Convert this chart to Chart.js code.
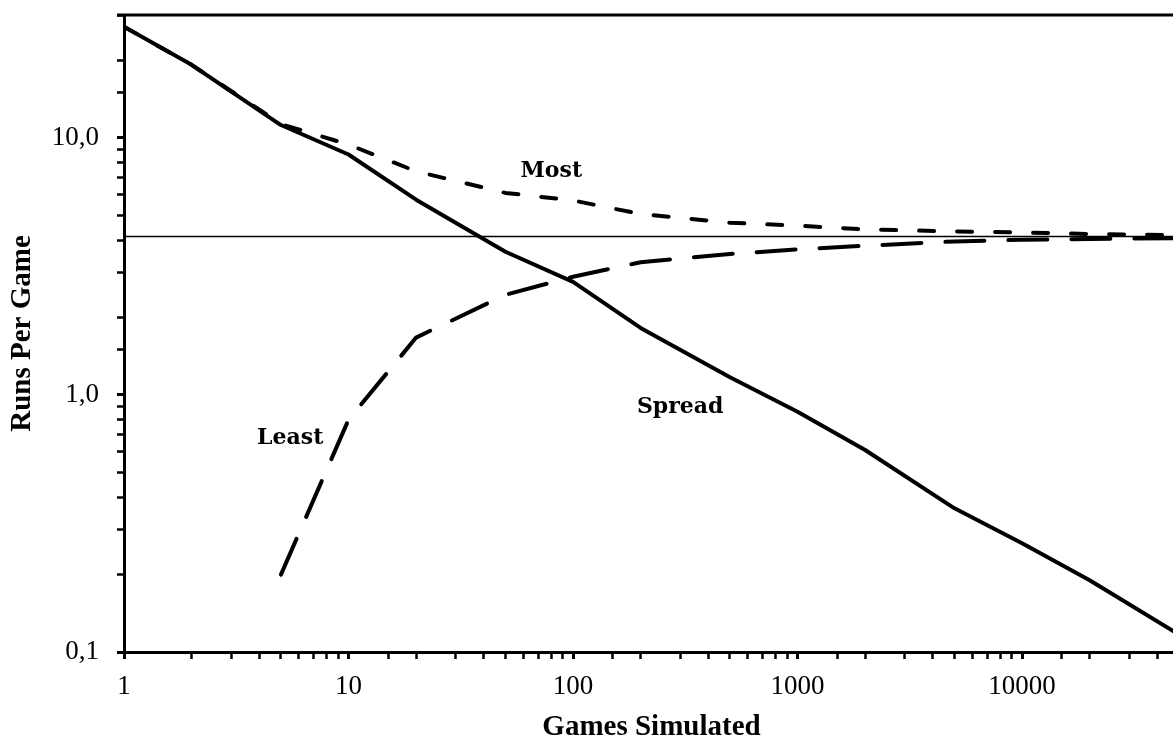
<!DOCTYPE html>
<html>
<head>
<meta charset="utf-8">
<script src="https://cdn.jsdelivr.net/npm/chart.js@4.4.0/dist/chart.umd.min.js"></script>
<style>
html,body{margin:0;padding:0;background:#fff;overflow:hidden;width:1173px;height:740px;}
#wrap{position:relative;width:1181px;height:745px;}
</style>
</head>
<body>
<div id="wrap"><canvas id="c" width="1181" height="745"></canvas></div>
<script>
// ---- data ----
const games  = [1, 2, 5, 10, 20, 50, 100, 200, 500, 1000, 2000, 5000, 10000, 20000, 50000];
const most   = [27, 19.2, 11.3, 9.4, 7.4, 6.1, 5.7, 5.05, 4.67, 4.55, 4.4, 4.32, 4.28, 4.22, 4.18];
const least  = [null, null, 0.2, 0.8, 1.67, 2.45, 2.88, 3.28, 3.53, 3.68, 3.8, 3.95, 4.01, 4.04, 4.07];
const spread = [27, 19.2, 11.2, 8.6, 5.74, 3.6, 2.75, 1.82, 1.17, 0.86, 0.61, 0.362, 0.265, 0.19, 0.117];
const meanRuns = 4.13;
const xTickValues = [1, 10, 100, 1000, 10000];
const xTickLabels = ['1', '10', '100', '1000', '10000'];
const yTickValues = [0.1, 1, 10];
const yTickLabels = ['0,1', '1,0', '10,0'];
const seriesLabels = [
  {text: 'Most',   x: 80,  y: 7.05},
  {text: 'Least',  x: 5.5, y: 0.645},
  {text: 'Spread', x: 300, y: 0.851}
];

function pairs(ys) {
  const out = [];
  ys.forEach((v, i) => { if (v !== null) out.push({x: games[i], y: v}); });
  return out;
}
function matchLabel(v, vals, labs) {
  for (let i = 0; i < vals.length; i++) {
    if (Math.abs(v - vals[i]) < vals[i] * 1e-6) return labs[i];
  }
  return '';
}
function isMajor(v) {
  const l = Math.log10(v);
  return Math.abs(l - Math.round(l)) < 1e-6;
}

const extras = {
  id: 'extras',
  afterDatasetsDraw(chart) {
    const {ctx, chartArea, scales} = chart;
    ctx.save();
    // top frame line
    ctx.strokeStyle = '#000';
    ctx.lineWidth = 3;
    ctx.beginPath();
    ctx.moveTo(chartArea.left - 7, chartArea.top);
    ctx.lineTo(chart.width, chartArea.top);
    ctx.stroke();
    // series labels
    ctx.fillStyle = '#000';
    ctx.font = 'bold 22px "DejaVu Serif"';
    ctx.textAlign = 'center';
    ctx.textBaseline = 'alphabetic';
    seriesLabels.forEach(l => {
      ctx.fillText(l.text, scales.x.getPixelForValue(l.x), scales.y.getPixelForValue(l.y));
    });
    ctx.restore();
  }
};

new Chart(document.getElementById('c'), {
  type: 'line',
  data: {
    datasets: [
      {label: 'Mean', data: [{x: games[0], y: meanRuns}, {x: games[games.length - 1], y: meanRuns}],
       borderColor: '#000', borderWidth: 1.5, pointRadius: 0},
      {label: 'Most', data: pairs(most), borderColor: '#000', borderWidth: 4, pointRadius: 0,
       borderDash: [15, 23], borderCapStyle: 'round', borderJoinStyle: 'round'},
      {label: 'Least', data: pairs(least), borderColor: '#000', borderWidth: 4, pointRadius: 0,
       borderDash: [39, 24], borderCapStyle: 'round', borderJoinStyle: 'round'},
      {label: 'Spread', data: pairs(spread), borderColor: '#000', borderWidth: 4, pointRadius: 0,
       borderJoinStyle: 'round'}
    ]
  },
  options: {
    responsive: false,
    animation: false,
    devicePixelRatio: 1,
    layout: {padding: {left: 0, right: 2, top: 15, bottom: 0}},
    plugins: {legend: {display: false}, tooltip: {enabled: false}},
    scales: {
      x: {
        type: 'logarithmic', min: 1, max: 50000, position: 'bottom',
        grid: {drawOnChartArea: false, drawTicks: true, tickLength: 7, tickColor: '#000',
               tickWidth: (c) => isMajor(c.tick.value) ? 3 : 2.5},
        border: {display: true, width: 3, color: '#000'},
        ticks: {autoSkip: false, maxRotation: 0, minRotation: 0, color: '#000', padding: 12,
                font: {family: '"Liberation Serif", serif', size: 27},
                callback: (v) => matchLabel(v, xTickValues, xTickLabels)},
        title: {display: true, text: 'Games Simulated', color: '#000', padding: 0,
                font: {family: '"Liberation Serif", serif', size: 29, weight: 'bold'}},
        afterFit: (s) => { s.height = 93; s.paddingLeft = 0; s.paddingRight = 0; }
      },
      y: {
        type: 'logarithmic', min: 0.1, max: 30, position: 'left',
        grid: {drawOnChartArea: false, drawTicks: true, tickLength: 7, tickColor: '#000',
               tickWidth: (c) => isMajor(c.tick.value) ? 3 : 2.5},
        border: {display: true, width: 3, color: '#000'},
        ticks: {autoSkip: false, color: '#000', padding: 18,
                font: {family: '"Liberation Serif", serif', size: 27},
                callback: (v) => matchLabel(v, yTickValues, yTickLabels)},
        title: {display: true, text: 'Runs Per Game', color: '#000', padding: {top: 5, bottom: 0},
                font: {family: '"Liberation Serif", serif', size: 29, weight: 'bold'}},
        afterFit: (s) => { s.width = 124; s.paddingTop = 0; s.paddingBottom = 0; }
      }
    }
  },
  plugins: [extras]
});
</script>
</body>
</html>
